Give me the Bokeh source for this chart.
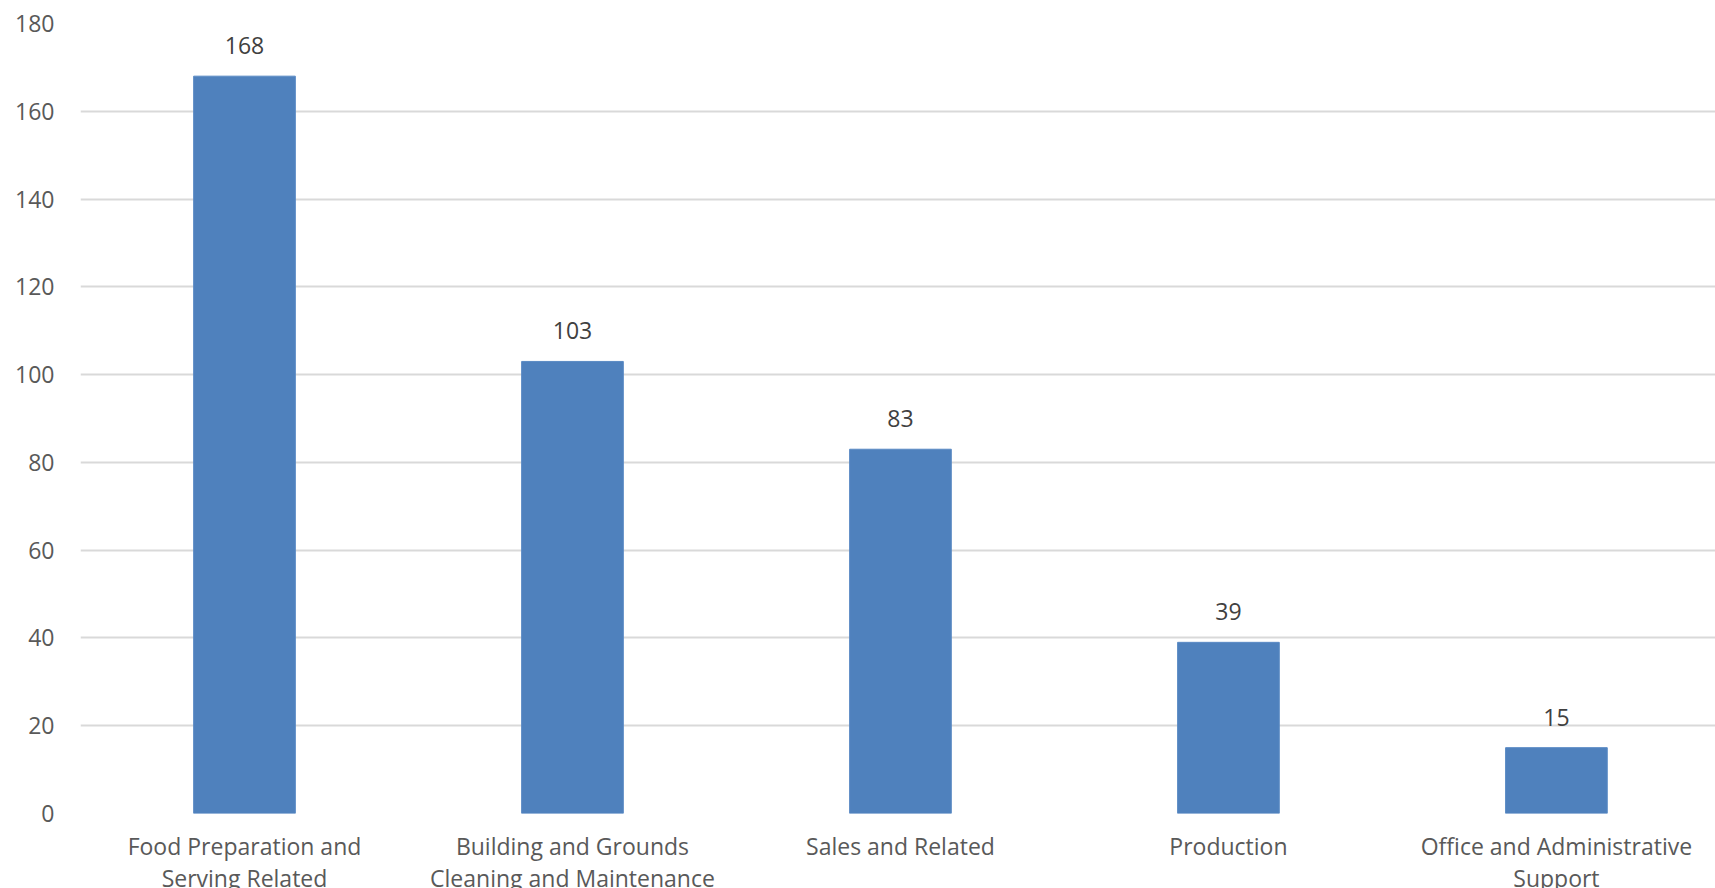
from bokeh.plotting import figure
from bokeh.models import ColumnDataSource, Range1d, FixedTicker, LabelSet
from bokeh.core.properties import value
from bokeh.embed import file_html
from bokeh.resources import INLINE

categories = [
    "Food Preparation and Serving Related",
    "Building and Grounds Cleaning and Maintenance",
    "Sales and Related",
    "Production",
    "Office and Administrative Support",
]
tick_labels = [
    "Food Preparation and\nServing Related",
    "Building and Grounds\nCleaning and Maintenance",
    "Sales and Related",
    "Production",
    "Office and Administrative\nSupport",
]
counts = [168, 103, 83, 39, 15]
y_ticks = [0, 20, 40, 60, 80, 100, 120, 140, 160, 180]

FONT = "Open Sans"
TEXT_COLOR = "#595959"

# category slots: one unit per category, bar centred in its slot
positions = [i + 0.5 for i in range(len(categories))]
source = ColumnDataSource(dict(
    x=positions,
    cat=categories,
    count=counts,
    label=[str(c) for c in counts],
))

p = figure(
    frame_width=1635, frame_height=790,
    x_range=Range1d(0, 4.985),
    y_range=Range1d(0, 180),
    output_backend="svg",
    toolbar_location=None,
    min_border_left=80, min_border_right=0, min_border_top=23, min_border_bottom=0,
)
p.outline_line_color = None
p.background_fill_color = "white"
p.border_fill_color = "white"

p.vbar(x="x", top="count", width=0.31, source=source,
       fill_color="#4F81BD", line_color="#5a8ac4", line_width=1)

labels = LabelSet(x="x", y="count", text="label", source=source,
                  text_align="center", text_baseline="alphabetic",
                  y_offset=22, text_font=value(FONT), text_font_size="23px",
                  text_color="#404040")
p.add_layout(labels)

# grid
p.xgrid.grid_line_color = None
p.ygrid.grid_line_color = "#d9d9d9"
p.ygrid.grid_line_width = 2
p.ygrid.ticker = FixedTicker(ticks=y_ticks)

# y axis
p.yaxis.ticker = FixedTicker(ticks=y_ticks)
p.yaxis.axis_line_color = None
p.yaxis.major_tick_line_color = None
p.yaxis.minor_tick_line_color = None
p.yaxis.major_tick_out = 0
p.yaxis.major_tick_in = 0
p.yaxis.major_label_standoff = 26
p.yaxis.major_label_text_font = FONT
p.yaxis.major_label_text_font_size = "23px"
p.yaxis.major_label_text_color = TEXT_COLOR

# x axis
p.xaxis.ticker = FixedTicker(ticks=positions)
p.xaxis.major_label_overrides = {pos: lab for pos, lab in zip(positions, tick_labels)}
p.xaxis.axis_line_color = None
p.xaxis.major_tick_line_color = None
p.xaxis.minor_tick_line_color = None
p.xaxis.major_tick_out = 0
p.xaxis.major_tick_in = 0
p.xaxis.major_label_standoff = 16
p.xaxis.major_label_text_font = FONT
p.xaxis.major_label_text_font_size = "23px"
p.xaxis.major_label_text_color = TEXT_COLOR
p.xaxis.major_label_text_line_height = 1.0

open("out.html", "w").write(file_html(p, INLINE))
